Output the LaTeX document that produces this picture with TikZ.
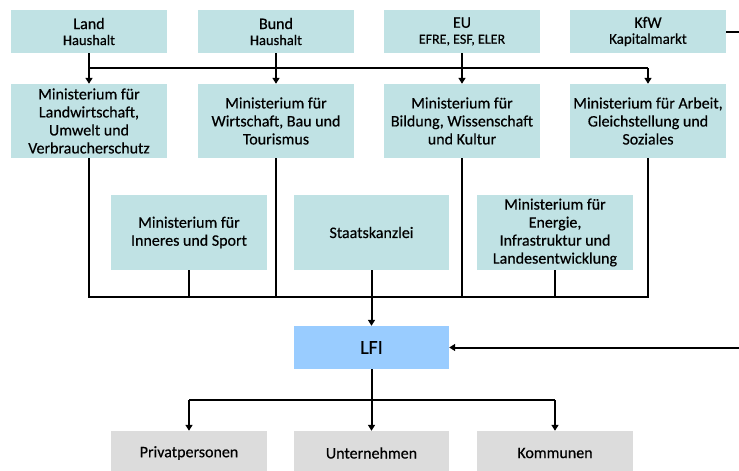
\documentclass[tikz,border=0pt]{standalone}
\usepackage{fontspec}
\setmainfont{Carlito}[FakeBold=0.45]
\usetikzlibrary{arrows.meta}
\definecolor{boxteal}{RGB}{192,226,228}
\definecolor{lfiblue}{RGB}{153,204,255}
\definecolor{boxgrey}{RGB}{220,220,220}
\begin{document}
\begin{tikzpicture}[x=1pt,y=-1pt,
  box/.style={fill=boxteal, minimum width=156pt, inner sep=0pt, align=center, font=\fontsize{16}{18}\selectfont},
  topbox/.style={box, minimum height=43pt, font=\fontsize{16}{16}\selectfont},
  minbox/.style={box, minimum height=74pt},
  lfibox/.style={fill=lfiblue, minimum width=155pt, minimum height=43pt, inner sep=0pt, font=\fontsize{20}{22}\selectfont},
  greybox/.style={fill=boxgrey, minimum width=156pt, minimum height=44pt, inner sep=0pt, font=\fontsize{16}{18}\selectfont},
  conn/.style={line width=2pt, black},
  arr/.style={conn, -{Triangle[width=7pt,length=6pt]}}]
\useasboundingbox (0,0) rectangle (739,471);
% top row
\node[topbox] (land) at (89,31.5) {Land\\{\fontsize{14.5}{14}\selectfont Haushalt}};
\node[topbox] (bund) at (276,31.5) {Bund\\{\fontsize{14.5}{14}\selectfont Haushalt}};
\node[topbox] (eu) at (462,31.5) {EU\\{\fontsize{14}{14}\selectfont EFRE, ESF, ELER}};
\node[topbox] (kfw) at (648,31.5) {KfW\\{\fontsize{15}{14}\selectfont Kapitalmarkt}};
% ministries row 1
\node[minbox] (m1) at (89,121) {Ministerium für\\Landwirtschaft,\\Umwelt und\\Verbraucherschutz};
\node[minbox] (m2) at (276,121) {Ministerium für\\Wirtschaft, Bau und\\Tourismus};
\node[minbox] (m3) at (462,121) {Ministerium für\\Bildung, Wissenschaft\\und Kultur};
\node[minbox] (m4) at (648,121) {Ministerium für Arbeit,\\Gleichstellung und\\Soziales};
% ministries row 2
\node[box, minimum height=75pt] (inn) at (189,232.5) {Ministerium für\\Inneres und Sport};
\node[box, minimum height=75pt, minimum width=155pt] (sk) at (371.5,232.5) {Staatskanzlei};
\node[box, minimum height=75pt] (ene) at (555,232.5) {Ministerium für\\Energie,\\Infrastruktur und\\Landesentwicklung};
% LFI
\node[lfibox] (lfi) at (371.5,347.5) {LFI};
% bottom
\node[greybox] (priv) at (189,453) {Privatpersonen};
\node[greybox, minimum width=155pt] (unt) at (371.5,453) {Unternehmen};
\node[greybox] (kom) at (555,453) {Kommunen};
% top bus
\coordinate (b1) at (89,68);
\coordinate (b4) at (648,68);
\draw[arr] (land) -- (m1);
\draw[arr] (bund) -- (m2);
\draw[arr] (eu) -- (m3);
\draw[conn] (b1) -- (b4);
\draw[arr] (b4) -- (m4);
% middle bus
\coordinate (c1) at (89,297);
\coordinate (c4) at (648,297);
\draw[conn] (m1) -- (c1) -- (c4) -- (m4);
\draw[conn] (m2) -- (m2 |- c1);
\draw[conn] (m3) -- (m3 |- c1);
\draw[conn] (inn) -- (inn |- c1);
\draw[conn] (ene) -- (ene |- c1);
\draw[arr] (sk) -- (lfi);
% KfW to LFI
\coordinate (r1) at (743,31.5);
\coordinate (r2) at (743,347.5);
\draw[arr] (kfw) -- (r1) -- (r2) -- (lfi);
% bottom bus
\coordinate (d1) at (189,400);
\coordinate (d3) at (555,400);
\draw[arr] (lfi) -- (unt);
\draw[conn] (d1) -- (d3);
\draw[arr] (d1) -- (priv);
\draw[arr] (d3) -- (kom);
\end{tikzpicture}
\end{document}
